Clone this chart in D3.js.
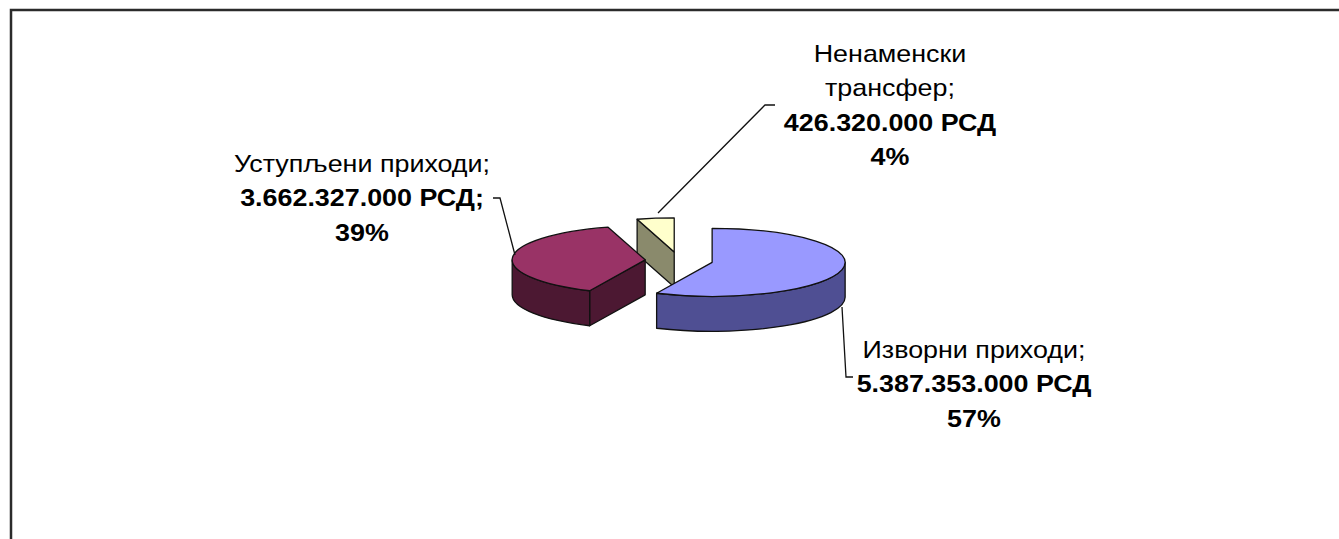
<!DOCTYPE html>
<html>
<head>
<meta charset="utf-8">
<script src="https://cdn.jsdelivr.net/npm/d3@7"></script>
<style>
  body { margin: 0; background: #fff; }
  text { font-family: "Liberation Sans", Arial, sans-serif; fill: #000; }
</style>
</head>
<body>
<svg id="chart" width="1339" height="539"></svg>
<script>
// slices, in drawing order of the pie (clockwise from 12 o'clock)
const categories = ["Изворни приходи", "Уступљени приходи", "Ненаменски трансфер"];
const values = [5387353000, 3662327000, 426320000];
const topColors = ["#9999ff", "#993366", "#ffffcc"];
const sideColors = ["#4f4f93", "#4c1832", "#8a8a6c"];
// label lines: [name line(s)], amount line, percent
const nameLines = [["Изворни приходи;"], ["Уступљени приходи;"], ["Ненаменски", "трансфер;"]];
const amountSuffix = ["", ";", ""];

const svg = d3.select('#chart');

// frame (only top and left visible in the crop)
svg.append('path')
    .attr('d', 'M11,539 L11,10 L1339,10')
    .attr('fill', 'none')
    .attr('stroke', '#2b2b2b')
    .attr('stroke-width', 2.5);

const cx = 679, cy = 260.5;     // pie centre
const rx = 133, ry = 34;        // ellipse radii of the tilted pie
const depth = 35;               // thickness
const explode = 0.255;          // explosion along bisector

const total = d3.sum(values);
const arcs = d3.pie().sort(null).value(d => d)(values);

const fmt = d3.formatLocale({ decimal: ',', thousands: '.', grouping: [3], currency: ['', ''] }).format(',d');
const pct = d3.format('.0%');

function pt(c, a, dy = 0) {
    return [c[0] + rx * Math.sin(a), c[1] - ry * Math.cos(a) + dy];
}

const slices = arcs.map((a, i) => {
    const mid = (a.startAngle + a.endAngle) / 2;
    const c = [cx + explode * rx * Math.sin(mid), cy - explode * ry * Math.cos(mid)];
    return { i, a, c };
});

// back to front
const order = slices.slice().sort((p, q) => p.c[1] - q.c[1]);

const g = svg.append('g')
    .attr('stroke', '#111')
    .attr('stroke-width', 1.3)
    .attr('stroke-linejoin', 'round');

order.forEach(s => {
    const { a, c, i } = s;
    const s0 = a.startAngle, s1 = a.endAngle;

    // radial cut faces
    [[s0, Math.sin(s0) < -1e-6], [s1, Math.sin(s1) > 1e-6]].forEach(([ang, vis]) => {
        if (!vis) return;
        const p = pt(c, ang);
        const path = d3.path();
        path.moveTo(c[0], c[1]);
        path.lineTo(p[0], p[1]);
        path.lineTo(p[0], p[1] + depth);
        path.lineTo(c[0], c[1] + depth);
        path.closePath();
        g.append('path').attr('d', path.toString()).attr('fill', sideColors[i]);
    });

    // outer curved side (front half only)
    const a0 = Math.max(s0, Math.PI / 2), a1 = Math.min(s1, 3 * Math.PI / 2);
    if (a1 > a0) {
        const p0 = pt(c, a0), p1 = pt(c, a1);
        const large = (a1 - a0) > Math.PI ? 1 : 0;
        const d = `M${p0} A${rx},${ry} 0 ${large} 1 ${p1} L${p1[0]},${p1[1] + depth} ` +
            `A${rx},${ry} 0 ${large} 0 ${p0[0]},${p0[1] + depth} Z`;
        g.append('path').attr('d', d).attr('fill', sideColors[i]);
    }

    // top face
    const p0 = pt(c, s0), p1 = pt(c, s1 - 1e-6);
    const large = (s1 - s0) > Math.PI ? 1 : 0;
    g.append('path')
        .attr('d', `M${c} L${p0} A${rx},${ry} 0 ${large} 1 ${p1} Z`)
        .attr('fill', topColors[i]);
});

// leader lines
const leaders = [
    [[842, 307], [846, 377], [853, 377]],
    [[515, 255], [500, 198], [493, 198]],
    [[658, 213], [765, 105], [775, 105]]
];
svg.append('g').selectAll('path')
    .data(leaders)
    .join('path')
    .attr('d', d => d3.line()(d))
    .attr('fill', 'none')
    .attr('stroke', '#111')
    .attr('stroke-width', 1.3);

// labels
const labelPos = [[974, 358], [362, 172], [890, 62]];
const lineH = 34.5;

slices.forEach(s => {
    const i = s.i;
    const t = svg.append('text')
        .attr('text-anchor', 'middle')
        .attr('font-size', 24)
        .attr('transform', `translate(${labelPos[i][0]},${labelPos[i][1]}) scale(1.12,1)`);
    const lines = nameLines[i].map(l => ({ txt: l, bold: false }))
        .concat([{ txt: fmt(values[i]) + ' РСД' + amountSuffix[i], bold: true },
                 { txt: pct(values[i] / total), bold: true }]);
    lines.forEach((l, k) => {
        t.append('tspan')
            .attr('x', 0)
            .attr('y', k * lineH)
            .attr('font-weight', l.bold ? 'bold' : 'normal')
            .text(l.txt);
    });
});
</script>
</body>
</html>
